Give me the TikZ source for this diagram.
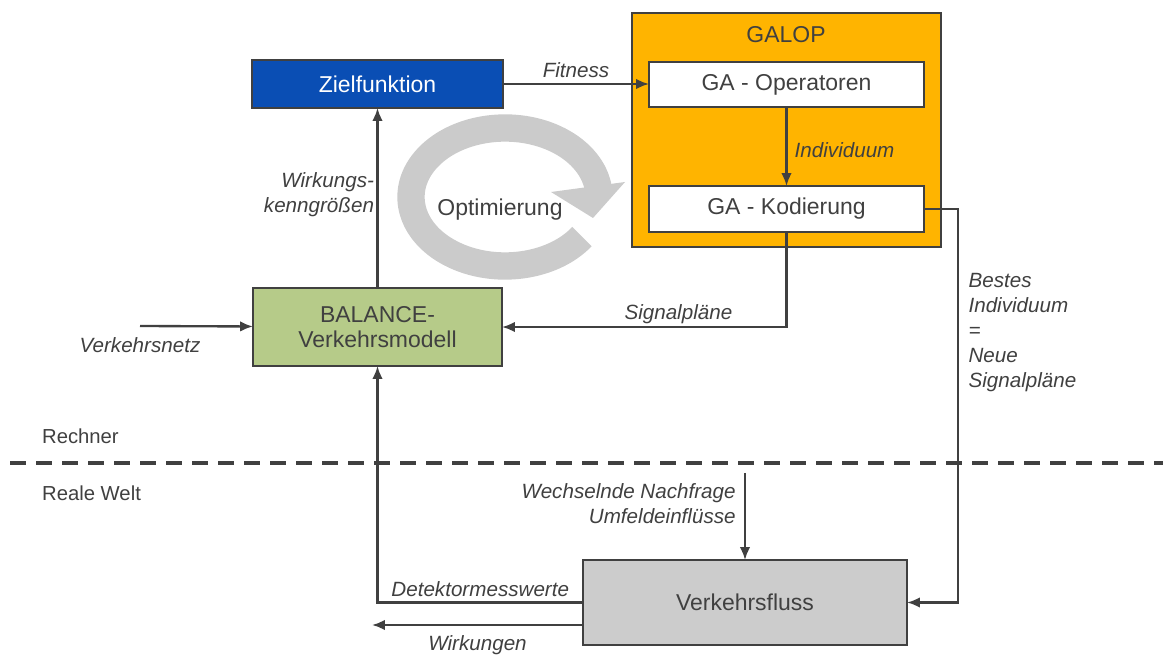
\documentclass[tikz,border=0pt]{standalone}
\usepackage{fontspec}
\setmainfont{Liberation Sans}
\usetikzlibrary{arrows.meta,positioning}
\definecolor{zielblue}{HTML}{0A4EB4}
\definecolor{galoporange}{HTML}{FFB400}
\definecolor{balancegreen}{HTML}{B6CB89}
\definecolor{flussgray}{HTML}{CCCCCC}
\definecolor{ringgray}{HTML}{CBCBCB}
\definecolor{linegray}{HTML}{404040}

\begin{document}
\begin{tikzpicture}[
    x=0.03cm,
    y=-0.03cm,
    block/.style={
        rectangle,
        draw=linegray,
        text=linegray,
        align=center,
        inner sep=0pt,
        outer sep=0pt,
        line width=1.2pt,
        font=\fontsize{19.6}{21.3}\selectfont
    },
    line/.style={
        draw=linegray,
        line width=2pt,
        -{Latex[length=11pt,width=9pt]}
    },
    tag/.style={
        text=linegray,
        inner sep=2pt,
        font=\fontsize{17.6}{21.3}\selectfont\itshape
    },
    world/.style={
        text=linegray,
        font=\fontsize{17.3}{21.3}\selectfont
    }
]
    \useasboundingbox (0,0) rectangle (1163,655);

    % Components
    \node [block, fill=galoporange, minimum width=9.27cm, minimum height=7.02cm] (galop) at (786.5,130) {};
    \node [world, font=\fontsize{19.6}{21.3}\selectfont] (galoptitle) at (786,35) {GALOP};
    \node [block, fill=white, minimum width=8.25cm, minimum height=1.35cm] (ops) at (786.5,84.5) {GA - Operatoren};
    \node [block, fill=white, minimum width=8.25cm, minimum height=1.38cm, below=2.37cm of ops] (kod) {GA - Kodierung};
    \node [block, fill=zielblue, text=white, minimum width=7.53cm, minimum height=1.44cm] (ziel) at (377.5,84) {Zielfunktion};
    \node [block, fill=balancegreen, minimum width=7.47cm, minimum height=2.34cm, below=5.4cm of ziel] (balance) {BALANCE-\\Verkehrsmodell};
    \node [block, fill=flussgray, minimum width=9.72cm, minimum height=2.55cm] (fluss) at (745,602.5) {Verkehrsfluss};

    % Optimization cycle
    \draw [ringgray, line width=0.82cm] (505,197) ++(35:94 and 69) arc [start angle=35, end angle=354, x radius=94, y radius=69];
    \fill [ringgray] (551,192) -- (625,182) -- (593,218) -- cycle;
    \node [block, draw=none, text=linegray] (opt) at (500,210) {Optimierung};

    % Computer / real world border
    \coordinate (sepl) at (10,463);
    \coordinate (sepr) at (1163,463);
    \draw [linegray, line width=3.4pt, dash pattern=on 13.7pt off 8.5pt] (sepl) -- (sepr);
    \node [world, anchor=west] (rechner) at (38,436) {Rechner};
    \node [world, anchor=west] (realwelt) at (38,493) {Reale Welt};

    % Free ends
    \coordinate (netz) at (140,326);
    \coordinate (wirk) at (372,625);
    \coordinate (nachfrage) at (745,473);

    % Connections
    \path [line] (ziel.east) -- node[tag, above, yshift=2pt] {Fitness} (ziel.east -| ops.west);
    \path [line] (ops) -- node[tag, right, pos=0.5, xshift=4pt, yshift=-3pt] {Individuum} (kod);
    \path [line] (kod.south) |- node[tag, above, pos=0.69] {Signalpläne} (balance.east);
    \path [line] (kod.east) -- ++(34,0) |- node[tag, pos=0.157, anchor=west, align=left, xshift=6pt] {Bestes\\Individuum\\=\\Neue\\Signalpläne} (fluss.east);
    \path [line] (balance) -- node[tag, left, align=right, pos=0.52] {Wirkungs-\\kenngrößen} (ziel);
    \path [line] (netz) node[tag, below=7pt] {Verkehrsnetz} -- (balance);
    \path [line] (fluss.west) -| node[tag, above, pos=0.25, yshift=2pt] {Detektormesswerte} (balance.south);
    \path [line] (fluss.west |- wirk) -- node[tag, below, pos=0.5, yshift=-6pt] {Wirkungen} (wirk);
    \path [line] (nachfrage) node[tag, anchor=north east, align=right, xshift=-5pt, yshift=-6pt] {Wechselnde Nachfrage\\Umfeldeinflüsse} -- (fluss.north);

\end{tikzpicture}
\end{document}
